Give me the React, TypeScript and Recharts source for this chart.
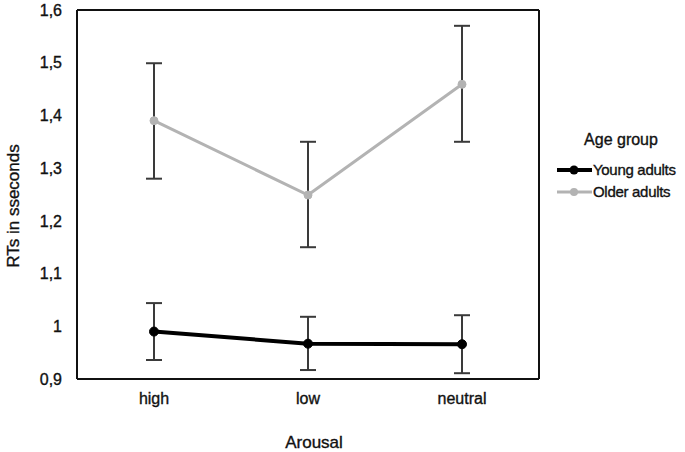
import React from "react";
import { LineChart, Line, XAxis, YAxis, ErrorBar, Legend } from "recharts";

// arousal conditions on the x axis
const categories = ["high", "low", "neutral"];

// mean RTs (s) with the upper / lower ends of the error bars
const youngMean = [0.99, 0.967, 0.966];
const youngUpper = [1.044, 1.018, 1.021];
const youngLower = [0.936, 0.917, 0.911];

const olderMean = [1.39, 1.249, 1.459];
const olderUpper = [1.499, 1.35, 1.57];
const olderLower = [1.28, 1.15, 1.35];

const yTicks = [0.9, 1, 1.1, 1.2, 1.3, 1.4, 1.5, 1.6];

const chartData = categories.map((c, i) => ({
  arousal: c,
  young: youngMean[i],
  youngErr: [youngMean[i] - youngLower[i], youngUpper[i] - youngMean[i]],
  older: olderMean[i],
  olderErr: [olderMean[i] - olderLower[i], olderUpper[i] - olderMean[i]],
}));

const FONT = "'Liberation Sans', Arial, sans-serif";
const INK = "#111";
// slight outline so the small labels read a bit heavier
const heavy = { stroke: INK, strokeWidth: 0.35 };

const fmtComma = (v: number) => String(parseFloat(v.toFixed(1))).replace(".", ",");

function AgeLegend() {
  const items = [
    { name: "Young adults", color: "#000000", width: 4, r: 4.5 },
    { name: "Older adults", color: "#b3b3b3", width: 3, r: 4 },
  ];
  return (
    <svg width={140} height={80} style={{ fontFamily: FONT }}>
      <text x={73} y={21} textAnchor="middle" fontSize={16} fill={INK} {...heavy}>
        Age group
      </text>
      {items.map((it, i) => {
        const y = 46 + i * 22;
        return (
          <g key={it.name}>
            <line x1={9} x2={44} y1={y} y2={y} stroke={it.color} strokeWidth={it.width} />
            <circle cx={26} cy={y} r={it.r} fill={it.color} />
            <text x={45} y={y + 5} fontSize={15} letterSpacing={-0.3} fill={INK} {...heavy}>
              {it.name}
            </text>
          </g>
        );
      })}
    </svg>
  );
}

const YTitle = () => (
  <text
    x={13}
    y={206}
    transform="rotate(-90, 13, 206)"
    textAnchor="middle"
    dominantBaseline="central"
    fontSize={17}
    fill={INK}
    fontFamily={FONT}
    {...heavy}
  >
    RTs in sseconds
  </text>
);

export default function App() {
  return (
    <div style={{ position: "absolute", left: 0, top: 0, background: "#fff" }}>
      <LineChart
        width={685}
        height={452}
        data={chartData}
        margin={{ top: 9, right: 145, left: 0, bottom: 0 }}
        style={{ fontFamily: FONT }}
      >
        <XAxis
          dataKey="arousal"
          padding={{ left: 77, right: 77 }}
          height={73}
          tickLine={false}
          tickMargin={8}
          axisLine={{ stroke: INK, strokeWidth: 2 }}
          tick={{ fontSize: 16, fill: INK, ...heavy }}
          label={{ value: "Arousal", position: "insideBottom", offset: 4, dx: 6, fontSize: 17, fill: INK, ...heavy }}
        />
        <XAxis
          xAxisId="top"
          dataKey="arousal"
          orientation="top"
          height={1}
          tick={false}
          tickLine={false}
          axisLine={{ stroke: INK, strokeWidth: 2 }}
        />
        <YAxis
          domain={[0.9, 1.6]}
          ticks={yTicks}
          width={77}
          tickLine={false}
          tickMargin={9}
          tickFormatter={fmtComma}
          axisLine={{ stroke: INK, strokeWidth: 2 }}
          tick={{ fontSize: 16, fill: INK, ...heavy }}
          label={<YTitle />}
        />
        <YAxis
          yAxisId="right"
          orientation="right"
          domain={[0.9, 1.6]}
          width={1}
          tick={false}
          tickLine={false}
          axisLine={{ stroke: INK, strokeWidth: 2 }}
        />
        <Legend
          layout="vertical"
          align="center"
          verticalAlign="middle"
          wrapperStyle={{ left: 548, top: 124, width: 140 }}
          content={<AgeLegend />}
        />
        <Line
          dataKey="young"
          name="Young adults"
          stroke="#000"
          strokeWidth={4}
          dot={{ r: 4.5, fill: "#000", stroke: "#000", strokeWidth: 1 }}
          isAnimationActive={false}
        >
          <ErrorBar dataKey="youngErr" width={8} stroke="#3a3a3a" strokeWidth={2} direction="y" />
        </Line>
        <Line
          dataKey="older"
          name="Older adults"
          stroke="#b3b3b3"
          strokeWidth={3}
          dot={{ r: 4, fill: "#b3b3b3", stroke: "#b3b3b3", strokeWidth: 1 }}
          isAnimationActive={false}
        >
          <ErrorBar dataKey="olderErr" width={8} stroke="#3a3a3a" strokeWidth={2} direction="y" />
        </Line>
      </LineChart>
    </div>
  );
}
